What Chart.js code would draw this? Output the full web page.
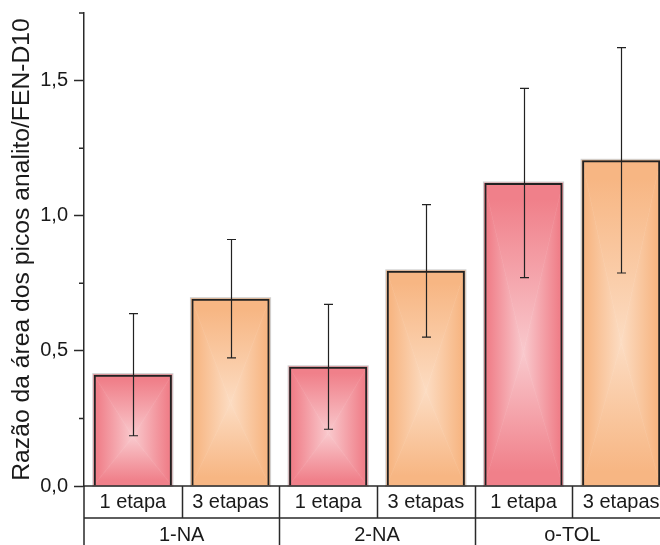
<!DOCTYPE html>
<html>
<head>
<meta charset="utf-8">
<script src="https://cdn.jsdelivr.net/npm/chart.js@4"></script>
<style>
  html, body { margin: 0; padding: 0; background: #fff; overflow: hidden; }
  #wrap { position: relative; width: 670px; height: 545px; }
</style>
</head>
<body>
<div id="wrap"><canvas id="chart" width="670" height="545"></canvas></div>
<script>
// data
const analytes = ["1-NA", "2-NA", "o-TOL"];
const steps = ["1 etapa", "3 etapas"];
const oneStep = [0.412, 0.441, 1.121];
const oneStepErr = [0.226, 0.231, 0.350];
const threeStep = [0.693, 0.796, 1.205];
const threeStepErr = [0.219, 0.245, 0.417];
const yMinorTicks = [0.25, 0.75, 1.25, 1.75];
const yTitle = "Razão da área dos picos analito/FEN-D10";

Chart.defaults.font.family = "'Liberation Sans', Arial, sans-serif";
Chart.defaults.color = "#1a1a1a";

const isMajor = v => Math.abs(v * 2 - Math.round(v * 2)) < 1e-6;

// pillow-like gradient fill under each bar (4 triangles to the centre)
const barFill = {
  id: "barFill",
  beforeDatasetsDraw(chart) {
    const ctx = chart.ctx;
    chart.data.datasets.forEach((ds, di) => {
      const meta = chart.getDatasetMeta(di);
      meta.data.forEach(bar => {
        const p = bar.getProps(["x", "y", "base", "width"], true);
        const l = p.x - p.width / 2, r = p.x + p.width / 2, t = p.y, b = p.base;
        const cx = p.x, cy = t + (b - t) * 0.56;
        ctx.save();
        ctx.strokeStyle = "rgba(150,150,150,0.45)";
        ctx.lineWidth = 3;
        ctx.strokeRect(l, t, r - l, b - t);
        const parts = [
          [[l, t], [r, t], [cx, t]],
          [[r, t], [r, b], [r, cy]],
          [[r, b], [l, b], [cx, b]],
          [[l, b], [l, t], [l, cy]]
        ];
        parts.forEach(([a, c, e]) => {
          const g = ctx.createLinearGradient(cx, cy, e[0], e[1]);
          g.addColorStop(0, ds.centerColor);
          g.addColorStop(0.9, ds.edgeColor);
          g.addColorStop(1, ds.edgeColor);
          ctx.beginPath();
          ctx.moveTo(a[0], a[1]);
          ctx.lineTo(c[0], c[1]);
          ctx.lineTo(cx, cy);
          ctx.closePath();
          ctx.fillStyle = g;
          ctx.fill();
          ctx.strokeStyle = g;
          ctx.lineWidth = 0.6;
          ctx.stroke();
        });
        ctx.restore();
      });
    });
  },
  afterDatasetsDraw(chart) {
    const ctx = chart.ctx;
    const ys = chart.scales.y;
    chart.data.datasets.forEach((ds, di) => {
      const meta = chart.getDatasetMeta(di);
      meta.data.forEach((bar, i) => {
        const v = ds.data[i], e = ds.errors[i];
        const x = Math.round(bar.x) + 0.5;
        const yt = ys.getPixelForValue(v + e), yb = ys.getPixelForValue(v - e);
        ctx.save();
        ctx.strokeStyle = "#222";
        ctx.lineWidth = 1.2;
        ctx.beginPath();
        ctx.moveTo(x, yt); ctx.lineTo(x, yb);
        ctx.moveTo(x - 4.5, yt); ctx.lineTo(x + 4.5, yt);
        ctx.moveTo(x - 4.5, yb); ctx.lineTo(x + 4.5, yb);
        ctx.stroke();
        ctx.restore();
      });
    });
  }
};

// two-row category table under the axis, plus minor y ticks
const catTable = {
  id: "catTable",
  afterDraw(chart) {
    const ctx = chart.ctx;
    const area = chart.chartArea;
    const ys = chart.scales.y;
    const left = area.left, right = area.right, base = area.bottom;
    const slot = (right - left) / (analytes.length * steps.length);
    const row1 = base + 32, row2 = chart.height;
    ctx.save();
    ctx.strokeStyle = "#2a2a2a";
    ctx.lineWidth = 1.5;
    ctx.beginPath();
    ctx.moveTo(left, base); ctx.lineTo(right, base);
    ctx.moveTo(left, row1); ctx.lineTo(right, row1);
    ctx.moveTo(left, base); ctx.lineTo(left, row2);
    for (let k = 1; k < analytes.length * steps.length; k++) {
      const x = Math.round(left + slot * k) + 0.5;
      ctx.moveTo(x, base);
      ctx.lineTo(x, k % steps.length === 0 ? row2 : row1);
    }
    yMinorTicks.forEach(v => {
      const y = ys.getPixelForValue(v);
      ctx.moveTo(left - 5, y); ctx.lineTo(left, y);
    });
    ctx.stroke();

    ctx.fillStyle = "#1a1a1a";
    ctx.font = "20px 'Liberation Sans', Arial, sans-serif";
    ctx.textAlign = "center";
    ctx.textBaseline = "middle";
    analytes.forEach((name, i) => {
      steps.forEach((s, k) => {
        ctx.fillText(s, left + slot * (i * steps.length + k + 0.5), base + 16);
      });
      ctx.fillText(name, left + slot * (i * steps.length + steps.length / 2), row1 + 17);
    });
    ctx.restore();
  }
};

new Chart(document.getElementById("chart"), {
  type: "bar",
  data: {
    labels: analytes,
    datasets: [
      {
        label: steps[0],
        data: oneStep,
        errors: oneStepErr,
        edgeColor: "#f0808a",
        centerColor: "#f9c9cd",
        backgroundColor: "rgba(0,0,0,0)",
        borderColor: "#222",
        borderWidth: 2
      },
      {
        label: steps[1],
        data: threeStep,
        errors: threeStepErr,
        edgeColor: "#f7b683",
        centerColor: "#fcdcc2",
        backgroundColor: "rgba(0,0,0,0)",
        borderColor: "#222",
        borderWidth: 2
      }
    ]
  },
  options: {
    responsive: false,
    animation: false,
    devicePixelRatio: 1,
    layout: { padding: { top: 13, bottom: 59, left: 0, right: 0 } },
    plugins: { legend: { display: false }, tooltip: { enabled: false } },
    datasets: { bar: { categoryPercentage: 1.0, barPercentage: 0.8 } },
    scales: {
      x: { display: false, offset: true },
      y: {
        min: 0,
        max: 1.75,
        ticks: {
          stepSize: 0.25,
          padding: 6,
          color: "#1a1a1a",
          font: { size: 20 },
          callback: v => isMajor(v) ? v.toFixed(1).replace(".", ",") : ""
        },
        grid: {
          drawOnChartArea: false,
          tickLength: 10,
          tickWidth: 1.5,
          tickColor: c => (c.tick && isMajor(c.tick.value)) ? "#2a2a2a" : "rgba(0,0,0,0)"
        },
        border: { color: "#2a2a2a", width: 1.5 },
        title: {
          display: true,
          text: yTitle,
          color: "#1a1a1a",
          font: { size: 24.7 },
          padding: { top: 7, bottom: 0 }
        },
        afterFit(scale) {
          scale.width = 84;
          scale.paddingTop = 0;
          scale.paddingBottom = 0;
        }
      }
    }
  },
  plugins: [barFill, catTable]
});
</script>
</body>
</html>
